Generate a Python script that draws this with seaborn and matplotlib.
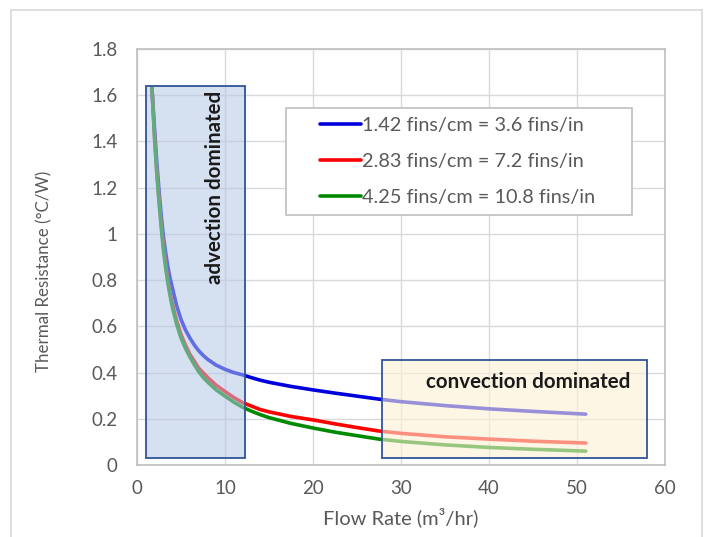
import numpy as np
import pandas as pd
import matplotlib
matplotlib.use("Agg")
import matplotlib.pyplot as plt
import matplotlib.patches as mpatches
import seaborn as sns

flow = [1.7, 2, 2.25, 2.5, 2.75, 3, 3.25, 3.5, 3.75, 4, 4.5, 5, 5.5, 6, 6.5, 7, 7.5, 8,
        9, 10, 11, 12, 13, 14, 15, 17.5, 20, 22.5, 25, 27.5, 30, 35, 40, 45, 51]
r_142 = [1.63, 1.45, 1.31, 1.19, 1.08, 0.99, 0.92, 0.86, 0.81, 0.77, 0.69, 0.63, 0.585,
         0.55, 0.52, 0.495, 0.475, 0.458, 0.432, 0.414, 0.400, 0.390, 0.378, 0.367, 0.358,
         0.340, 0.325, 0.311, 0.298, 0.285, 0.274, 0.257, 0.243, 0.232, 0.22]
r_283 = [1.63, 1.42, 1.27, 1.15, 1.04, 0.95, 0.87, 0.80, 0.745, 0.70, 0.625, 0.565, 0.52,
         0.48, 0.45, 0.42, 0.40, 0.38, 0.345, 0.318, 0.292, 0.270, 0.255, 0.24, 0.23,
         0.21, 0.195, 0.178, 0.162, 0.147, 0.137, 0.122, 0.112, 0.103, 0.095]
r_425 = [1.63, 1.41, 1.26, 1.14, 1.03, 0.93, 0.855, 0.79, 0.735, 0.685, 0.61, 0.55, 0.505,
         0.468, 0.435, 0.405, 0.38, 0.36, 0.325, 0.298, 0.272, 0.25, 0.233, 0.218, 0.205,
         0.18, 0.16, 0.142, 0.127, 0.112, 0.102, 0.087, 0.076, 0.068, 0.06]
labels = ["1.42 fins/cm = 3.6 fins/in", "2.83 fins/cm = 7.2 fins/in",
          "4.25 fins/cm = 10.8 fins/in"]
colors = ["#0000dd", "#ff0000", "#008a00"]
xticks = [0, 10, 20, 30, 40, 50, 60]
yticks = [0, 0.2, 0.4, 0.6, 0.8, 1.0, 1.2, 1.4, 1.6, 1.8]
ytick_labels = ["0", "0.2", "0.4", "0.6", "0.8", "1", "1.2", "1.4", "1.6", "1.8"]

df = pd.DataFrame({
    "flow": flow * 3,
    "R": r_142 + r_283 + r_425,
    "series": [labels[0]] * len(flow) + [labels[1]] * len(flow) + [labels[2]] * len(flow),
})

sns.set_theme(style="white")
plt.rcParams["font.family"] = ["Lato", "DejaVu Sans"]

fig = plt.figure(figsize=(7.06, 5.37), dpi=100)
ax = fig.add_axes([137 / 706, 72 / 537, 528 / 706, 416 / 537])

# outer chart border
fig.patches.append(mpatches.Rectangle((11 / 706, -0.01), 691 / 706, (537 - 10) / 537 + 0.01,
                                      transform=fig.transFigure, fill=False,
                                      edgecolor="#d9d9d9", linewidth=1.2))

sns.lineplot(data=df, x="flow", y="R", hue="series", hue_order=labels,
             palette=colors, linewidth=2.6, ax=ax, zorder=3)

ax.set_xlim(0, 60)
ax.set_ylim(0, 1.8)
ax.set_xticks(xticks)
ax.set_xticklabels([str(v) for v in xticks])
ax.set_yticks(yticks)
ax.set_yticklabels(ytick_labels)
ax.grid(True, color="#d9d9d9", linewidth=1.0)
ax.set_axisbelow(True)
for s in ax.spines.values():
    s.set_color("#bfbfbf")
    s.set_linewidth(1.2)
ax.tick_params(axis="y", colors="#595959", labelsize=13.5, length=0, pad=14)
ax.tick_params(axis="x", colors="#595959", labelsize=13.5, length=0, pad=11)

ax.set_xlabel("Flow Rate (m³/hr)", fontsize=14.5, color="#595959", labelpad=7)
ax.set_ylabel("Thermal Resistance (°C/W)", fontsize=12.2, color="#595959")
ax.yaxis.set_label_coords(-0.16, 0.466)

# shaded regions
ax.add_patch(mpatches.Rectangle((1.0, 0.03), 11.3, 1.61, facecolor="#b4c7e7", alpha=0.55,
                                edgecolor="none", zorder=4))
ax.add_patch(mpatches.Rectangle((1.0, 0.03), 11.3, 1.61, fill=False,
                                edgecolor="#2f5597", linewidth=1.3, zorder=5))
ax.add_patch(mpatches.Rectangle((27.8, 0.03), 30.2, 0.425, facecolor="#fdf0d5", alpha=0.6,
                                edgecolor="none", zorder=4))
ax.add_patch(mpatches.Rectangle((27.8, 0.03), 30.2, 0.425, fill=False,
                                edgecolor="#2f5597", linewidth=1.3, zorder=5))

ax.text(8.9, 1.20, "advection dominated", rotation=90, ha="center", va="center",
        fontsize=14.8, color="#1a1a1a", fontweight="bold", zorder=6)
ax.text(44.5, 0.36, "convection dominated", ha="center", va="center",
        fontsize=14.8, color="#1a1a1a", fontweight="bold", zorder=6)

# legend frame drawn as a box, legend entries inside
ax.add_patch(mpatches.Rectangle((0.282, 0.601), 0.6555, 0.257, transform=ax.transAxes,
                                facecolor="white", edgecolor="#bfbfbf", linewidth=1.2,
                                zorder=6))
leg = ax.legend(loc="center left", bbox_to_anchor=(0.3466, 0.729), fontsize=14.3,
                frameon=False, handlelength=2.05, handletextpad=0.05,
                labelspacing=0.95, borderpad=0, borderaxespad=0)
for t in leg.get_texts():
    t.set_color("#595959")
for h in leg.get_lines():
    h.set_linewidth(2.6)
leg.set_zorder(7)

fig.savefig("out.png", dpi=100)
